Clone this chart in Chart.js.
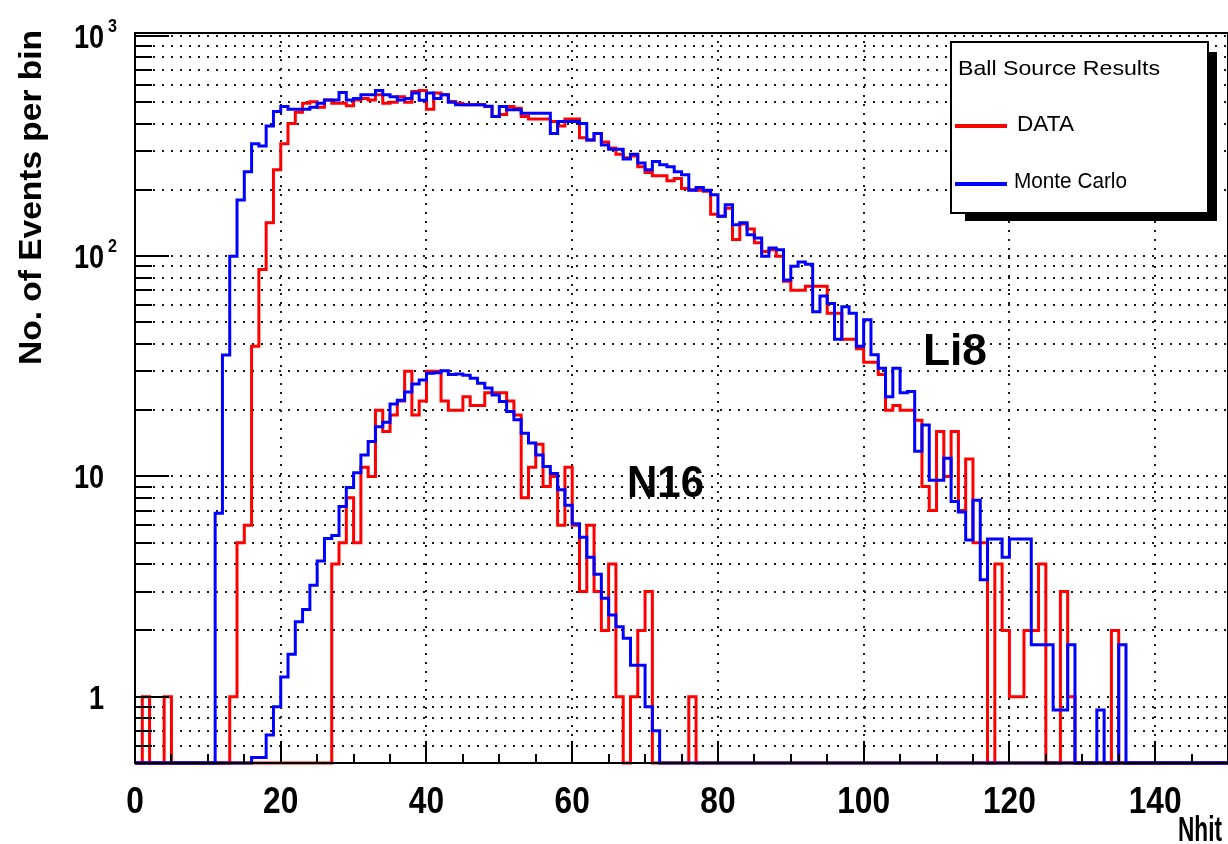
<!DOCTYPE html>
<html>
<head>
<meta charset="utf-8">
<script src="https://cdn.jsdelivr.net/npm/chart.js@4.4.1/dist/chart.umd.min.js"></script>
<style>
html,body{margin:0;padding:0;background:#ffffff;overflow:hidden;}
#wrap{position:relative;width:1228px;height:844px;background:#fff;}
canvas{display:block;}
</style>
</head>
<body>
<div id="wrap"><canvas id="c" width="1228" height="844"></canvas></div>
<script>
// ---------------- data ----------------
const NBINS = 150;          // 1-unit bins from 0 to 150
const X_MIN = 0, X_MAX = 150;
const Y_MIN = 0.5, Y_MAX = 1031;
const xTickLabels = [0, 20, 40, 60, 80, 100, 120, 140];
const yTickLabels = [1, 10, 100, 1000];
const seriesNames = ['DATA', 'Monte Carlo'];
const legendTitle = 'Ball Source Results';
const peakLabels = ['Li8', 'N16'];

// DATA (red), Li8 spectrum, bins 0..134
const dataLi8Start = 0;
const dataLi8 = [0,1,0,0,1,0,0,0,0,0,0,0,0,1,5,6,39,87,142,247,
  324,400,450,495,503,475,512,495,495,482,512,520,512,540,495,500,530,500,560,565,
  465,550,540,504,495,487,487,487,478,431,440,478,470,431,420,420,420,409,390,420,
  420,345,337,361,330,310,290,280,285,255,240,232,232,220,225,203,200,199,197,155,
  152,165,119,140,133,115,105,107,100,77,70,70,73,73,73,55,55,42,42,38,
  33,33,29,20,21,20,20,18,9,7,16,10,16,7,12,5,5,0,4,2,
  1,1,2,2,4,0,0,3,1,0,0,0,0,0,2];

// Monte Carlo (blue), Li8 spectrum, bins 11..135
const mcLi8Start = 11;
const mcLi8 = [6.8,35.6,100,180,242,324,316,390,454,
  478,464,465,465,475,495,512,512,553,512,
  520,540,540,565,540,530,512,520,550,510,
  550,520,540,500,487,487,487,487,480,431,
  478,462,462,446,446,446,446,361,409,409,
  409,400,337,361,320,306,306,276,290,265,
  247,269,260,255,242,234,199,205,199,190,
  152,171,139,142,125,121,100,109,107,78,
  90,94,92,56,66,61,42,59,55,39,
  51.5,35.7,31,23,31,24,24.3,13,17.1,9.6,
  9.6,12.1,7.7,6.9,5.15,7.8,3.4,5.2,5.2,4.3,
  5.2,5.2,5.2,1.72,1.72,1.72,0.87,0.87,1.72,0,
  0,0,0.87,0,0,1.72];

// DATA (red), N16 spectrum, bins 27..76
const dataN16Start = 27;
const dataN16 = [4,5,8,5,11,10,20,16,19,22,30,19,22,30,30,22,20,20,23,21,
  21,24,24,24,22,19,8,11,14,9,10,6,11,6,3,6,3,2,4,1,
  0,1,2,3,0,0,0,0,0,1];

// Monte Carlo (blue), N16 spectrum, bins 16..71
const mcN16Start = 16;
const mcN16 = [0.53,0.53,0.67,0.9,1.23,1.56,2.19,2.49,3.21,4.13,
  5.23,5.4,7.3,8.9,10.4,12.5,14.4,16.8,17.6,21.3,
  22.2,24.2,26.3,27.4,29.4,29.6,30.2,29.0,29.2,28.8,
  27.9,26.5,25.2,23.4,21.9,19.7,18.1,15.7,14.2,12.5,
  11.1,10.3,8.7,7.4,6.1,5.3,4.3,3.6,2.8,2.35,
  2.08,1.84,1.39,1.39,0.9,0.7];

// ---------------- helpers ----------------
const RED = '#ff0000', BLUE = '#0000ff';
const FONT = '"Liberation Sans", Arial, Helvetica, sans-serif';
const BIN_W = (X_MAX - X_MIN) / NBINS;

function histPoints(start, values) {
  const pts = [];
  for (let b = 0; b < NBINS; b++) {
    const i = b - start;
    const v = (i >= 0 && i < values.length) ? values[i] : 0;
    pts.push({x: X_MIN + b * BIN_W, y: v > 0 ? v : Y_MIN});
  }
  pts.push({x: X_MAX, y: pts[pts.length - 1].y});
  return pts;
}

function histDataset(label, start, values, color, order) {
  return {
    label: label,
    data: histPoints(start, values),
    borderColor: color,
    backgroundColor: color,
    borderWidth: 3,
    stepped: 'before',
    pointRadius: 0,
    pointHoverRadius: 0,
    fill: false,
    tension: 0,
    borderJoinStyle: 'miter',
    borderCapStyle: 'butt',
    order: order,
    clip: 4
  };
}

function drawText(ctx, text, x, y, font, o) {
  o = o || {};
  ctx.save();
  ctx.font = font;
  ctx.fillStyle = o.color || '#000';
  ctx.textBaseline = o.baseline || 'alphabetic';
  ctx.textAlign = 'left';
  const w = ctx.measureText(text).width;
  const sx = o.width ? o.width / w : (o.sx || 1);
  const dw = w * sx;
  let left = x;
  if (o.align === 'center') left = x - dw / 2;
  else if (o.align === 'right') left = x - dw;
  ctx.translate(left, y);
  ctx.scale(sx, 1);
  ctx.fillText(text, 0, 0);
  ctx.restore();
  return dw;
}

const yGridValues = [];
[0.1, 1, 10, 100].forEach(d => { for (let k = 1; k <= 9; k++) { const v = +(k * d).toPrecision(3); if (v > Y_MIN && v < Y_MAX) yGridValues.push(v); } });
yGridValues.push(1000);
const xMinorTicks = [];
for (let v = 0; v <= 150; v += 5) xMinorTicks.push(v);

const rootStyle = {
  id: 'rootStyle',
  beforeDatasetsDraw(chart) {
    const {ctx, chartArea: a, scales: {x, y}} = chart;
    ctx.save();
    ctx.strokeStyle = '#1a1a1a';
    ctx.lineWidth = 2;
    ctx.setLineDash([2, 7]);
    yGridValues.forEach(v => {
      const py = Math.round(y.getPixelForValue(v));
      ctx.beginPath(); ctx.moveTo(a.left, py); ctx.lineTo(a.right, py); ctx.stroke();
    });
    xTickLabels.forEach(v => {
      if (v === 0) return;
      const px = Math.round(x.getPixelForValue(v));
      ctx.beginPath(); ctx.moveTo(px, a.bottom); ctx.lineTo(px, a.top); ctx.stroke();
    });
    ctx.restore();
  },
  afterDatasetsDraw(chart) {
    const {ctx, chartArea: a, scales: {x, y}} = chart;
    ctx.save();
    ctx.strokeStyle = '#000';
    ctx.lineWidth = 2;
    ctx.setLineDash([]);
    ctx.strokeRect(a.left, a.top, a.right - a.left, a.bottom - a.top);
    yGridValues.forEach(v => {
      const py = Math.round(y.getPixelForValue(v));
      const major = yTickLabels.includes(v);
      ctx.beginPath(); ctx.moveTo(a.left, py); ctx.lineTo(a.left + (major ? 34 : 17), py); ctx.stroke();
    });
    xMinorTicks.forEach(v => {
      const px = Math.round(x.getPixelForValue(v));
      const major = v % 20 === 0;
      ctx.beginPath(); ctx.moveTo(px, a.bottom); ctx.lineTo(px, a.bottom - (major ? 22 : 9)); ctx.stroke();
    });
    ctx.restore();

    xTickLabels.forEach(v => {
      const px = x.getPixelForValue(v);
      drawText(ctx, String(v), px, 813, 'bold 36px ' + FONT, {align: 'center', sx: 0.88});
    });
    yTickLabels.forEach(v => {
      const py = y.getPixelForValue(v);
      const exp = Math.round(Math.log10(v));
      if (exp >= 2) {
        drawText(ctx, '10', 104, py + 12, 'bold 33px ' + FONT, {align: 'right', sx: 0.82});
        drawText(ctx, String(exp), 108, py - 4, 'bold 19px ' + FONT, {align: 'left', sx: 0.85});
      } else {
        drawText(ctx, String(v), 104, py + 12, 'bold 33px ' + FONT, {align: 'right', sx: 0.82});
      }
    });
    ctx.save();
    ctx.font = 'bold 32px ' + FONT;
    const yt = 'No. of Events per bin';
    const ytw = ctx.measureText(yt).width;
    const ysx = 335 / ytw;
    ctx.translate(41, 30 + 335);
    ctx.rotate(-Math.PI / 2);
    ctx.scale(ysx, 1);
    ctx.fillStyle = '#000';
    ctx.textBaseline = 'alphabetic';
    ctx.fillText(yt, 0, 0);
    ctx.restore();
    drawText(ctx, 'Nhit', 1222, 841, 'bold 35px ' + FONT, {align: 'right', width: 44});

    drawText(ctx, peakLabels[0], 923, 365, 'bold 44px ' + FONT, {width: 64});
    drawText(ctx, peakLabels[1], 627, 497, 'bold 44px ' + FONT, {width: 77});

    const L = 951, T = 42, R = 1208, B = 213;
    ctx.save();
    ctx.fillStyle = '#000';
    ctx.fillRect(R, T + 10, 9, B - T - 2);
    ctx.fillRect(L + 14, B, R - L - 5, 8);
    ctx.fillStyle = '#fff';
    ctx.fillRect(L, T, R - L, B - T);
    ctx.strokeStyle = '#000';
    ctx.lineWidth = 2;
    ctx.strokeRect(L, T, R - L, B - T);
    ctx.lineWidth = 4;
    ctx.strokeStyle = RED;
    ctx.beginPath(); ctx.moveTo(955, 126); ctx.lineTo(1007, 126); ctx.stroke();
    ctx.strokeStyle = BLUE;
    ctx.beginPath(); ctx.moveTo(955, 184); ctx.lineTo(1007, 184); ctx.stroke();
    ctx.restore();
    drawText(ctx, legendTitle, 958, 75, '21px ' + FONT, {width: 202});
    drawText(ctx, seriesNames[0], 1017, 131, '22px ' + FONT, {width: 57});
    drawText(ctx, seriesNames[1], 1014, 188, '22px ' + FONT, {width: 113});
  }
};

const ctx = document.getElementById('c').getContext('2d');
new Chart(ctx, {
  type: 'line',
  data: {
    datasets: [
      histDataset(seriesNames[0] + ' Li8', dataLi8Start, dataLi8, RED, 2),
      histDataset(seriesNames[0] + ' N16', dataN16Start, dataN16, RED, 2),
      histDataset(seriesNames[1] + ' Li8', mcLi8Start, mcLi8, BLUE, 1),
      histDataset(seriesNames[1] + ' N16', mcN16Start, mcN16, BLUE, 0)
    ]
  },
  options: {
    responsive: false,
    animation: false,
    devicePixelRatio: 1,
    events: [],
    layout: {padding: {top: 33, right: 0, left: 0, bottom: 0}},
    plugins: {legend: {display: false}, tooltip: {enabled: false}, title: {display: false}},
    scales: {
      x: {
        type: 'linear', min: X_MIN, max: X_MAX,
        ticks: {display: false},
        grid: {display: false},
        border: {display: false},
        afterFit: s => { s.height = 81; }
      },
      y: {
        type: 'logarithmic', min: Y_MIN, max: Y_MAX,
        ticks: {display: false},
        grid: {display: false},
        border: {display: false},
        afterFit: s => { s.width = 135; }
      }
    }
  },
  plugins: [rootStyle]
});
</script>
</body>
</html>
